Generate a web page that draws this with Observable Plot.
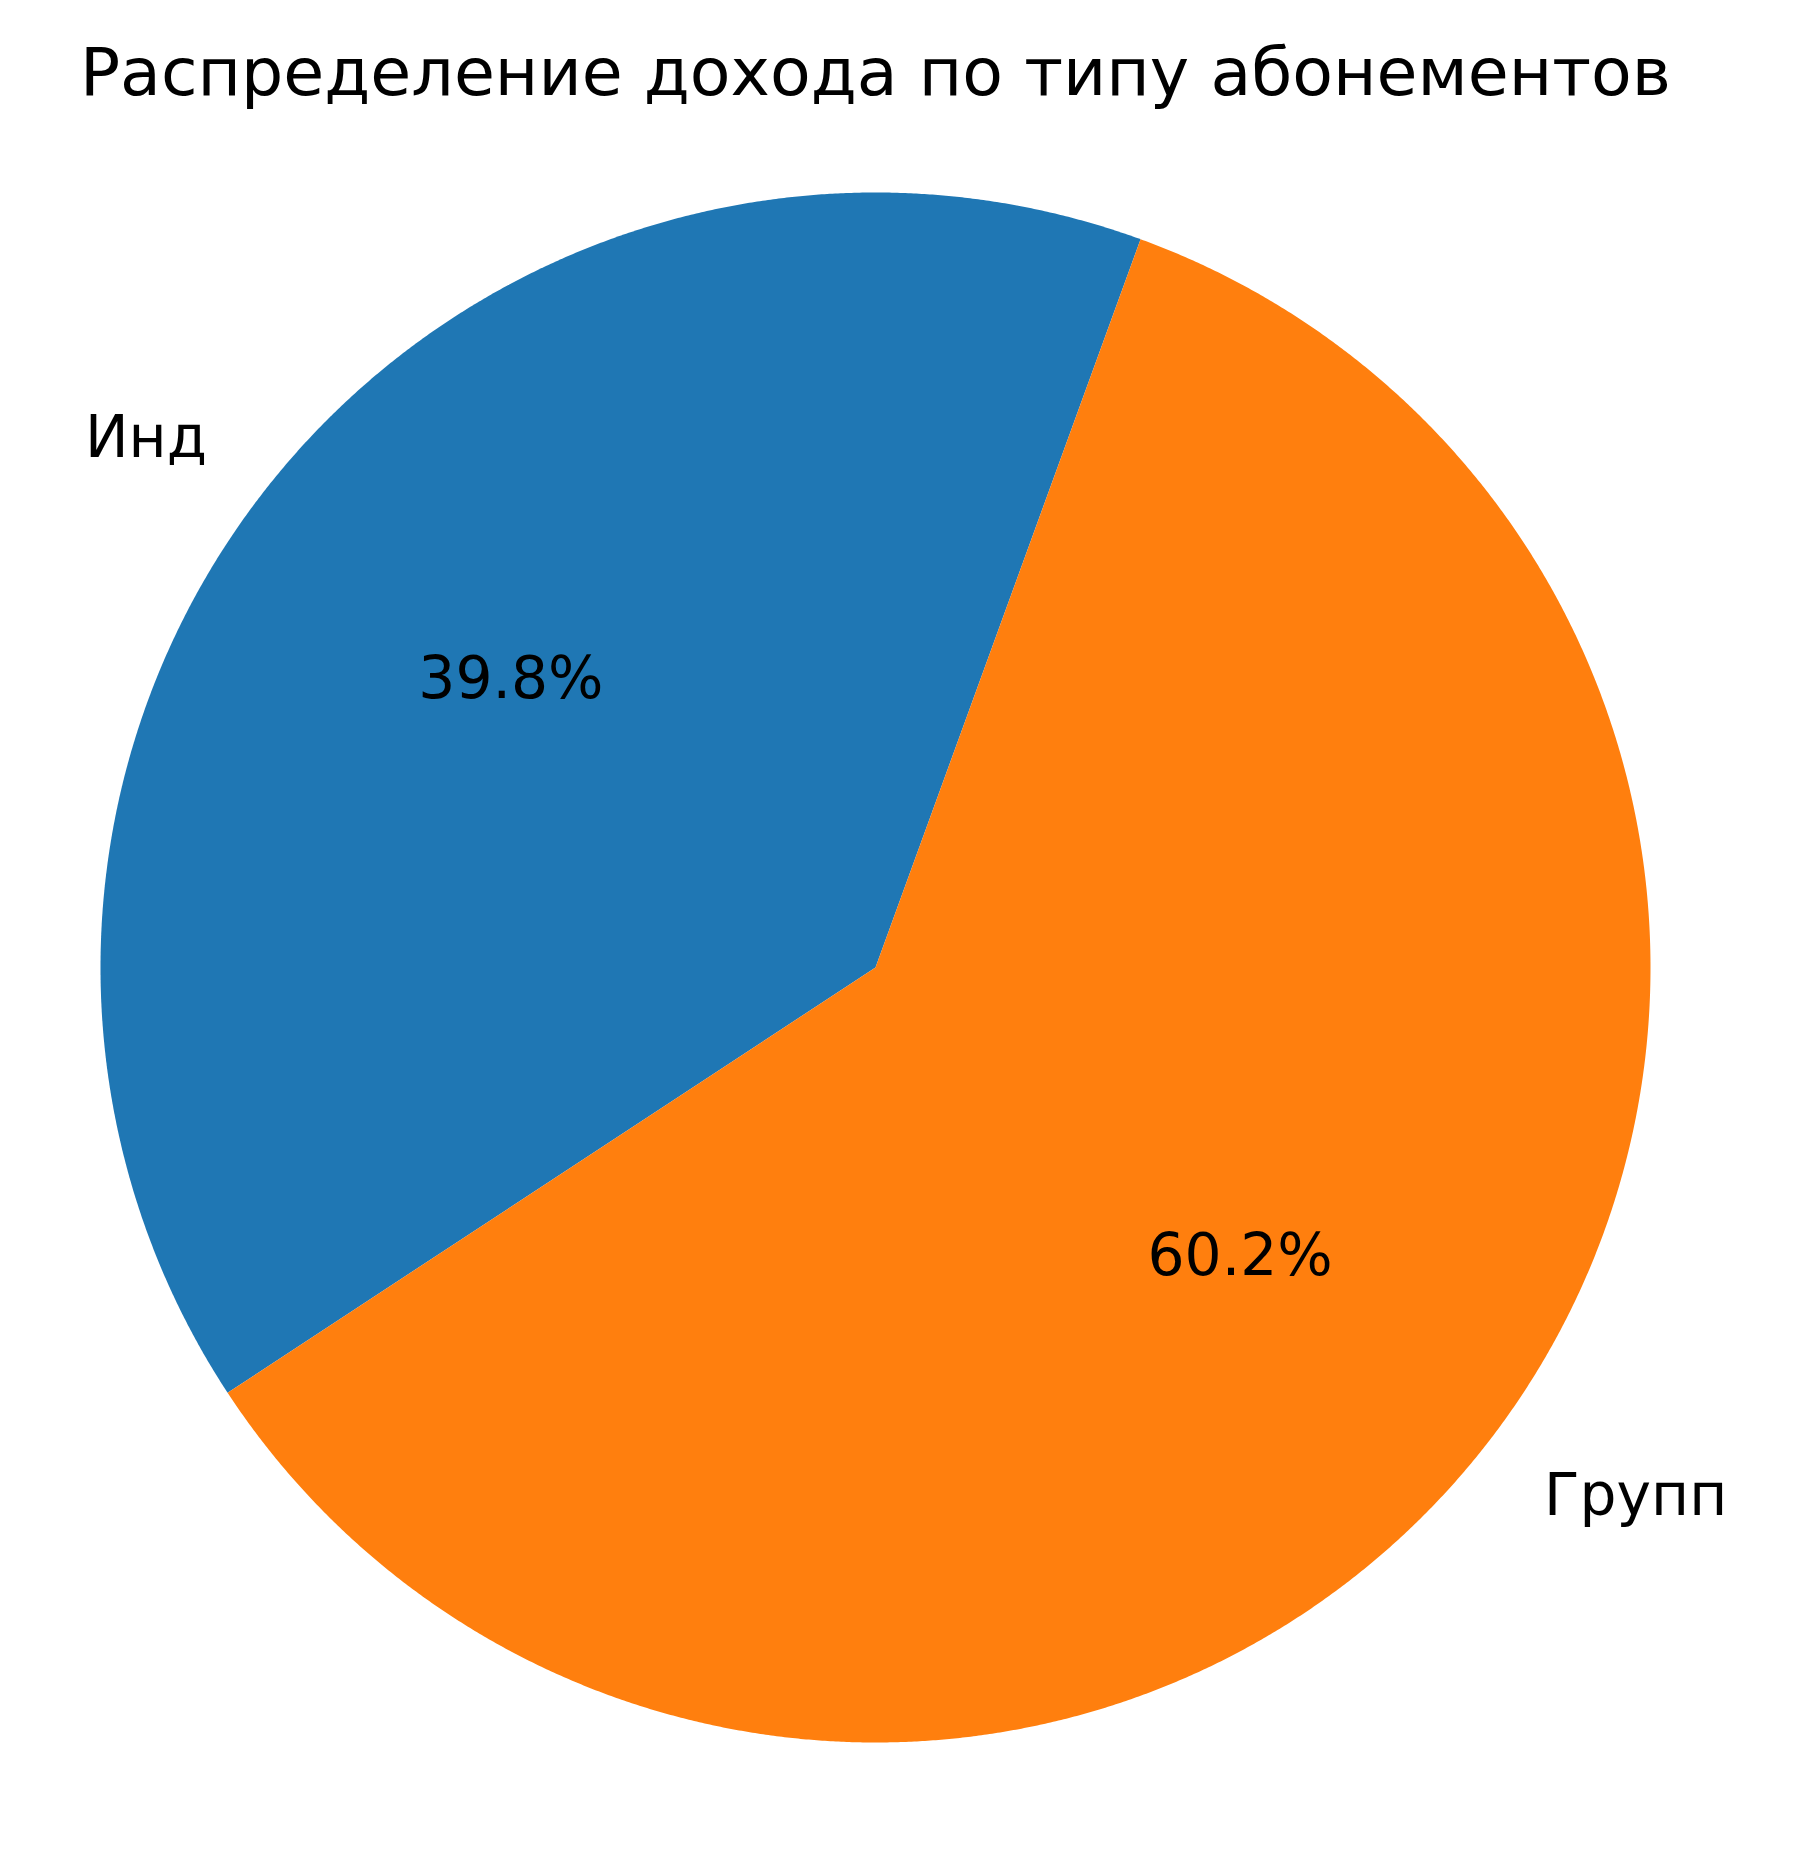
<!DOCTYPE html>
<html><head><meta charset="utf-8">
<script src="https://cdn.jsdelivr.net/npm/d3@7"></script>
<script src="https://cdn.jsdelivr.net/npm/@observablehq/plot@0.6"></script>
<style>body{margin:0;background:#fff} svg{display:block}</style>
</head><body><div id="chart"></div>
<script>
const categories = ["Инд", "Групп"];
const shares = [39.8, 60.2];
const colors = ["#1f77b4", "#ff7f0e"];
const title = "Распределение дохода по типу абонементов";
const startAngle = 70; // degrees, counterclockwise from +x

const total = d3.sum(shares);
let acc = startAngle;
const slices = categories.map((name, i) => {
  const span = shares[i] / total * 360;
  const s = {name, value: shares[i], a0: acc, a1: acc + span, mid: acc + span / 2};
  acc += span;
  return s;
});
const rad = d => d * Math.PI / 180;
const outline = slices.flatMap(s => {
  const n = Math.ceil((s.a1 - s.a0) / 0.2);
  const pts = [{name: s.name, x: 0, y: 0}];
  for (let k = 0; k <= n; k++) {
    const a = rad(s.a0 + (s.a1 - s.a0) * k / n);
    pts.push({name: s.name, x: Math.cos(a), y: Math.sin(a)});
  }
  pts.push({name: s.name, x: 0, y: 0});
  return pts;
});
const labels = slices.map(s => ({text: s.name, x: 1.1 * Math.cos(rad(s.mid)), y: 1.1 * Math.sin(rad(s.mid))}));
const pcts = slices.map(s => ({text: (s.value / total * 100).toFixed(1) + "%", x: 0.6 * Math.cos(rad(s.mid)), y: 0.6 * Math.sin(rad(s.mid))}));

const cx = 875, cy = 967, R = 775, W = 1800, H = 1860;
const chart = Plot.plot({
  width: W, height: H, margin: 0,
  x: {domain: [-cx / R, (W - cx) / R], axis: null},
  y: {domain: [(cy - H) / R, cy / R], axis: null},
  color: {domain: categories, range: colors},
  style: {fontFamily: "DejaVu Sans", background: "white", color: "black"},
  marks: [
    Plot.line(outline, {x: "x", y: "y", z: "name", fill: "name", stroke: "none"}),
    Plot.text(labels.filter(d => d.x < 0), {x: "x", y: "y", text: "text", textAnchor: "end", fontSize: 58.3, fill: "black"}),
    Plot.text(labels.filter(d => d.x >= 0), {x: "x", y: "y", text: "text", textAnchor: "start", fontSize: 58.3, fill: "black"}),
    Plot.text(pcts, {x: "x", y: "y", text: "text", textAnchor: "middle", fontSize: 58.3, fill: "black"}),
    Plot.text([title], {frameAnchor: "top", dx: -25, dy: 47, fontSize: 66.6, fill: "black"})
  ]
});
document.getElementById("chart").appendChild(chart);
</script>
</body></html>
